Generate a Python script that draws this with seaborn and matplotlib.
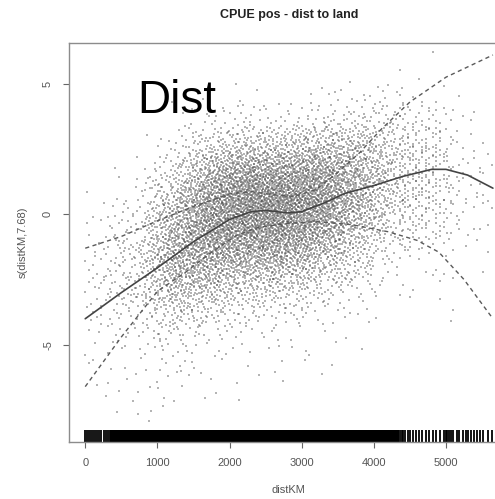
import numpy as np
import pandas as pd
import matplotlib
matplotlib.use("Agg")
import matplotlib.pyplot as plt
import seaborn as sns

sns.set_theme(style="white")
plt.rcParams["font.family"] = ["Liberation Sans", "DejaVu Sans"]

# ---------------- text ----------------
title = "CPUE pos - dist to land"
x_label = "distKM"
y_label = "s(distKM,7.68)"
panel_tag = "Dist"
x_ticks = [0, 1000, 2000, 3000, 4000, 5000]
y_ticks = [-5, 0, 5]
y_tick_labels = ["-5", "0", "5"]

# ---------------- smooth + confidence bands ----------------
fit_km = [0, 500, 1000, 1500, 2000, 2300, 2500, 2800, 3000, 3300, 3600, 4000, 4400, 4800, 5000, 5300, 5650]
fit_val = [-4.0, -3.0, -2.05, -1.05, -0.2, 0.1, 0.15, 0.05, 0.1, 0.42, 0.8, 1.1, 1.45, 1.72, 1.72, 1.5, 1.0]

upper_km = [0, 500, 1000, 1500, 2000, 2300, 2600, 2900, 3200, 3500, 3800, 4100, 4500, 5000, 5650]
upper_val = [-1.3, -0.85, -0.25, 0.3, 0.78, 0.87, 0.75, 0.68, 0.95, 1.6, 2.35, 3.25, 4.3, 5.25, 6.1]

lower_km = [0, 500, 1000, 1400, 1700, 2100, 2400, 2800, 3200, 3700, 4200, 4600, 4900, 5250, 5650]
lower_val = [-6.6, -4.7, -2.95, -2.2, -1.55, -0.8, -0.5, -0.35, -0.28, -0.4, -0.67, -1.0, -1.45, -2.5, -4.0]

# ---------------- rug: distinct stations in the sparse ends, gaps in the dense middle ----------------
rug_left_km = [0, 23, 46, 74, 102, 130, 157, 185, 222, 255, 287, 319, 343]
rug_right_km = [4361, 4384, 4407, 4435, 4468, 4500, 4537, 4583, 4630, 4671, 4722, 4769, 4815,
                4861, 4917, 4972, 5000, 5019, 5042, 5069, 5102, 5148, 5185, 5231, 5278, 5310,
                5347, 5394, 5426, 5472, 5519, 5588, 5634]
rug_gap_km = [532, 588, 694, 759, 866, 1167, 3875, 4116]
dense_from_km = 350
dense_to_km = 4338

# ---------------- partial-residual cloud: points per cell (500 km x 1 unit) ----------------
cell_x_km = [250, 750, 1250, 1750, 2250, 2750, 3250, 3750, 4250, 4750, 5250, 5600]
cell_y = [-8.5, -7.5, -6.5, -5.5, -4.5, -3.5, -2.5, -1.5, -0.5, 0.5, 1.5, 2.5, 3.5, 4.5, 5.5, 6.5]
col_0250 = [0, 2, 3, 5, 10, 18, 20, 15, 10, 4, 1, 0, 0, 0, 0, 0]
col_0750 = [0, 3, 5, 8, 16, 32, 45, 45, 32, 14, 4, 1, 0, 0, 0, 0]
col_1250 = [0, 3, 5, 12, 30, 80, 150, 190, 170, 120, 55, 15, 3, 0, 0, 0]
col_1750 = [0, 0, 3, 6, 15, 55, 140, 240, 300, 280, 200, 80, 15, 2, 0, 0]
col_2250 = [0, 0, 2, 4, 10, 35, 100, 220, 330, 360, 280, 110, 20, 3, 0, 0]
col_2750 = [0, 0, 0, 3, 8, 30, 100, 220, 330, 360, 280, 115, 20, 3, 0, 0]
col_3250 = [0, 0, 0, 2, 5, 18, 60, 150, 250, 310, 270, 140, 35, 5, 0, 0]
col_3750 = [0, 0, 0, 0, 3, 8, 28, 70, 130, 180, 180, 120, 40, 8, 0, 0]
col_4250 = [0, 0, 0, 0, 0, 3, 8, 22, 45, 70, 80, 70, 40, 10, 1, 0]
col_4750 = [0, 0, 0, 0, 0, 2, 4, 10, 28, 45, 50, 45, 28, 8, 1, 0]
col_5250 = [0, 0, 0, 0, 0, 0, 2, 3, 8, 12, 14, 10, 5, 1, 0, 0]
col_5600 = [0, 0, 0, 0, 0, 0, 0, 1, 5, 8, 8, 5, 1, 0, 0, 0]

# ---------------- render the cell counts as dots (deterministic Halton layout) ----------------
D = np.array([col_0250, col_0750, col_1250, col_1750, col_2250, col_2750, col_3250,
              col_3750, col_4250, col_4750, col_5250, col_5600], dtype=float).T  # (y, x)
cx = np.array(cell_x_km, float)
cy = np.array(cell_y, float)
dmax = D.max()
x_lo, x_hi, y_lo, y_hi = 0.0, 5640.0, -9.0, 7.0
n_cand = int((x_hi - x_lo) / 500.0 * (y_hi - y_lo) * dmax)


def van_der_corput(n, base):
    i = np.arange(1, n + 1)
    out = np.zeros(n)
    f = 1.0 / base
    while np.any(i > 0):
        out += f * (i % base)
        i = i // base
        f /= base
    return out


u0 = van_der_corput(n_cand, 2)
u1 = van_der_corput(n_cand, 3)
u2 = van_der_corput(n_cand, 5)
px = x_lo + u0 * (x_hi - x_lo)
py = y_lo + u1 * (y_hi - y_lo)
fx = np.interp(px, cx, np.arange(len(cx)))
fy = np.interp(py, cy, np.arange(len(cy)))
ix0 = np.clip(np.floor(fx).astype(int), 0, len(cx) - 2)
iy0 = np.clip(np.floor(fy).astype(int), 0, len(cy) - 2)
tx = fx - ix0
ty = fy - iy0
dens = (D[iy0, ix0] * (1 - tx) * (1 - ty) + D[iy0, ix0 + 1] * tx * (1 - ty)
        + D[iy0 + 1, ix0] * (1 - tx) * ty + D[iy0 + 1, ix0 + 1] * tx * ty)
keep = u2 < dens / dmax
px = px[keep]
py = py[keep]

# sparse ends: observations sit on the distinct stations of the rug
rl = np.array(rug_left_km, float)
rr = np.array(rug_right_km, float)
m_l = px < dense_from_km
px[m_l] = rl[np.abs(px[m_l][:, None] - rl[None, :]).argmin(axis=1)]
m_r = px > dense_to_km
px[m_r] = rr[np.abs(px[m_r][:, None] - rr[None, :]).argmin(axis=1)]

pts = pd.DataFrame({"distKM": px, "resid": py})

dense_x = px[(px >= dense_from_km) & (px <= dense_to_km)]
for gk in rug_gap_km:
    dense_x = dense_x[np.abs(dense_x - gk) > 6]
rug_x = np.concatenate([rl, dense_x, rr])

# ---------------- figure ----------------
W, H = 495, 499
fig = plt.figure(figsize=(W / 100, H / 100), dpi=100)
left_px, right_px, top_px, bot_px = 69, 508, 42.7, 442
ax = fig.add_axes([left_px / W, (H - bot_px) / H, (right_px - left_px) / W, (bot_px - top_px) / H])
ax.set_facecolor("white")

sns.scatterplot(data=pts, x="distKM", y="resid", ax=ax, marker="s", s=0.6,
                linewidth=0, color="#444444", alpha=0.4, legend=False)

sns.lineplot(x=fit_km, y=fit_val, ax=ax, color="#444444", linewidth=1.2, sort=False)
sns.lineplot(x=upper_km, y=upper_val, ax=ax, color="#5a5a5a", linewidth=1.0, sort=False)
ax.lines[-1].set_dashes((3, 2.5))
sns.lineplot(x=lower_km, y=lower_val, ax=ax, color="#5a5a5a", linewidth=1.0, sort=False)
ax.lines[-1].set_dashes((3, 2.5))

sns.rugplot(x=rug_x, ax=ax, height=0.03, color="black", linewidth=1.3, expand_margins=False)

ax.set_xlim(-225, 5859)
ax.set_ylim(-8.72, 6.57)

for side in ["left", "top", "bottom"]:
    ax.spines[side].set_color("#8c8c8c")
    ax.spines[side].set_linewidth(1.0)
ax.spines["right"].set_visible(False)

ax.set_xticks(x_ticks)
ax.set_xticklabels([str(v) for v in x_ticks])
ax.set_yticks(y_ticks)
ax.set_yticklabels(y_tick_labels, rotation=90, va="center")
ax.tick_params(axis="both", direction="out", length=4.5, width=0.8, color="#666666",
               labelcolor="#555555", labelsize=8, pad=7)
ax.tick_params(axis="x", bottom=True)
ax.tick_params(axis="y", left=True)

ax.set_xlabel(x_label, fontsize=8, color="#555555", labelpad=12)
ax.set_ylabel(y_label, fontsize=8, color="#555555", labelpad=11)

fig.text(289 / W, 1 - 15 / H, title, ha="center", va="center", fontsize=9,
         fontweight="bold", color="#222222")
fig.text(137 / W, 1 - 113 / H, panel_tag, ha="left", va="baseline", fontsize=33, color="black")

fig.savefig("out.png", dpi=100)
